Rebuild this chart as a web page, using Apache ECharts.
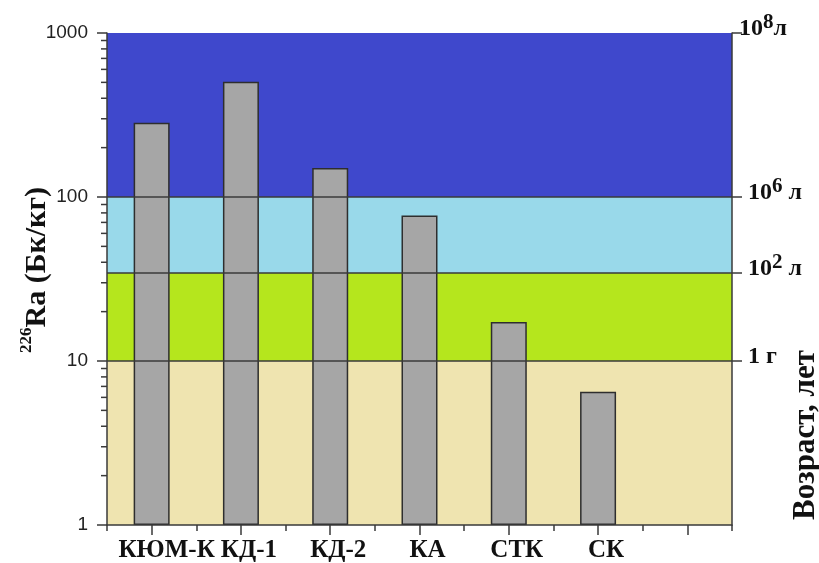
<!DOCTYPE html>
<html>
<head>
<meta charset="utf-8">
<script src="https://cdn.jsdelivr.net/npm/echarts@6/dist/echarts.min.js"></script>
<style>
  html, body { margin: 0; padding: 0; background: #fff; }
  #chart { width: 819px; height: 563px; }
</style>
</head>
<body>
<div id="chart"></div>
<script>
// Samples and their 226Ra activity, Bq/kg
const categories = ['КЮМ-К', 'КД-1', 'КД-2', 'КА', 'СТК', 'СК', ''];
const radium = [284, 505, 150, 77, 17.3, 6.5, '-'];

// Age zones on the activity scale: [lower, upper] bounds
const zoneBounds = [[1, 10], [10, 34.4], [34.4, 100], [100, 1000]];
const zoneColors = ['#EFE4B0', '#B5E61D', '#99D9EA', '#3F48CC'];

// Age marks on the right-hand side
const ageLevels = [1000, 100, 34.4, 10];
const ageBase = ['10', '10', '10', '1'];
const agePower = ['8', '6', '2', ''];
const ageUnit = ['л', ' л', ' л', ' г'];

const axisColor = '#3a3a3a';
const serif = 'Liberation Serif';

// minor ticks of the logarithmic activity axis (2..9 in each decade)
const minorTicks = [];
[1, 10, 100].forEach(d => { for (let k = 2; k <= 9; k++) minorTicks.push(k * d); });

const chart = echarts.init(document.getElementById('chart'), null, { renderer: 'canvas' });

const option = {
  animation: false,
  backgroundColor: '#ffffff',
  grid: { left: 107, right: 87, top: 33, bottom: 38, containLabel: false },
  xAxis: [
    {
      type: 'category',
      data: categories,
      position: 'bottom',
      z: 10,
      axisLine: { show: true, lineStyle: { color: axisColor, width: 1.5 } },
      axisTick: { show: true, alignWithLabel: true, interval: 0, length: 10, lineStyle: { color: axisColor, width: 1.5 } },
      axisLabel: {
        interval: 0, margin: 13, color: '#111',
        fontFamily: serif, fontWeight: 'bold', fontSize: 25,
        padding: [0, 0, 0, 16],
        formatter: (v, i) => i === 0 ? '{w|' + v + '}' : v,
        rich: { w: { fontFamily: serif, fontWeight: 'bold', fontSize: 25, color: '#111', padding: [0, 0, 0, 14] } }
      },
      splitLine: { show: false }
    },
    {
      type: 'category',
      data: categories,
      position: 'bottom',
      z: 10,
      axisLine: { show: false },
      axisTick: { show: true, interval: 0, length: 6, lineStyle: { color: axisColor, width: 1.5 } },
      axisLabel: { show: false },
      splitLine: { show: false }
    }
  ],
  yAxis: [
    {
      type: 'log',
      logBase: 10,
      min: 1,
      max: 1000,
      position: 'left',
      z: 10,
      axisLine: { show: true, lineStyle: { color: axisColor, width: 1.5 } },
      axisTick: { show: true, length: 10, lineStyle: { color: axisColor, width: 1.5 } },
      axisLabel: {
        margin: 19, color: '#222',
        fontFamily: 'Liberation Sans', fontSize: 19,
        formatter: v => String(Math.round(v))
      },
      splitLine: { show: false }
    },
    {
      type: 'log',
      logBase: 10,
      min: 1,
      max: 1000,
      position: 'right',
      z: 10,
      axisLine: { show: true, lineStyle: { color: axisColor, width: 1.5 } },
      axisTick: { show: false },
      axisLabel: { show: false },
      splitLine: { show: false }
    }
  ],
  graphic: [
    {
      type: 'text',
      x: 37, y: 270,
      rotation: Math.PI / 2,
      style: {
        text: '{s|226}{b|Ra (Бк/кг)}',
        align: 'center', verticalAlign: 'middle',
        rich: {
          s: { fontFamily: serif, fontWeight: 'bold', fontSize: 17, fill: '#111', verticalAlign: 'top' },
          b: { fontFamily: serif, fontWeight: 'bold', fontSize: 30, lineHeight: 38, fill: '#111' }
        }
      }
    },
    {
      type: 'text',
      x: 806, y: 435,
      rotation: Math.PI / 2,
      style: {
        text: 'Возраст, лет',
        align: 'center', verticalAlign: 'middle',
        font: 'bold 31px "Liberation Serif"',
        fill: '#111'
      }
    }
  ],
  series: [
    {
      // coloured age zones behind the bars
      type: 'custom',
      z: 1,
      xAxisIndex: 0, yAxisIndex: 0,
      silent: true,
      encode: { x: 0, y: [1, 2] },
      data: zoneBounds.map((b, i) => [0, b[0], b[1], i]),
      renderItem: (params, api) => {
        const cs = params.coordSys;
        const yTop = api.coord([0, api.value(2)])[1];
        const yBot = api.coord([0, api.value(1)])[1];
        return {
          type: 'rect',
          shape: { x: cs.x, y: yTop, width: cs.width, height: yBot - yTop },
          style: { fill: zoneColors[api.value(3)] }
        };
      }
    },
    {
      type: 'bar',
      z: 2,
      xAxisIndex: 0, yAxisIndex: 0,
      data: radium,
      barWidth: 36,
      itemStyle: { color: '#A6A6A6', borderColor: '#2e2e2e', borderWidth: 1.5 }
    },
    {
      // zone boundaries, right-hand ticks and age labels
      type: 'custom',
      z: 3,
      xAxisIndex: 0, yAxisIndex: 0,
      silent: true,
      clip: false,
      encode: { x: 0, y: 1 },
      data: ageLevels.map((v, i) => [0, v, i]),
      renderItem: (params, api) => {
        const cs = params.coordSys;
        const i = api.value(2);
        const y = api.coord([0, api.value(1)])[1];
        const xr = cs.x + cs.width;
        const children = [];
        if (i > 0) {
          children.push({
            type: 'line',
            shape: { x1: cs.x, y1: y, x2: xr, y2: y },
            style: { stroke: axisColor, lineWidth: 1.5 }
          });
        }
        children.push({
          type: 'line',
          shape: { x1: xr, y1: y, x2: xr + 10, y2: y },
          style: { stroke: axisColor, lineWidth: 1.5 }
        });
        const txt = agePower[i]
          ? '{b|' + ageBase[i] + '}{s|' + agePower[i] + '}{b|' + ageUnit[i] + '}'
          : '{b|' + ageBase[i] + ageUnit[i] + '}';
        children.push({
          type: 'text',
          style: {
            x: xr + (i === 0 ? 7 : 16),
            y: y - 4,
            text: txt,
            align: 'left', verticalAlign: 'middle',
            rich: {
              b: { fontFamily: serif, fontWeight: 'bold', fontSize: 24, lineHeight: 33, fill: '#111' },
              s: { fontFamily: serif, fontWeight: 'bold', fontSize: 21, fill: '#111', verticalAlign: 'top' }
            }
          }
        });
        return { type: 'group', children };
      }
    },
    {
      // minor ticks of the activity axis
      type: 'custom',
      z: 4,
      xAxisIndex: 0, yAxisIndex: 0,
      silent: true,
      clip: false,
      encode: { x: 0, y: 1 },
      data: minorTicks.map(v => [0, v]),
      renderItem: (params, api) => {
        const cs = params.coordSys;
        const y = api.coord([0, api.value(1)])[1];
        return {
          type: 'line',
          shape: { x1: cs.x - 6, y1: y, x2: cs.x, y2: y },
          style: { stroke: axisColor, lineWidth: 1.5 }
        };
      }
    }
  ]
};

chart.setOption(option);
</script>
</body>
</html>
